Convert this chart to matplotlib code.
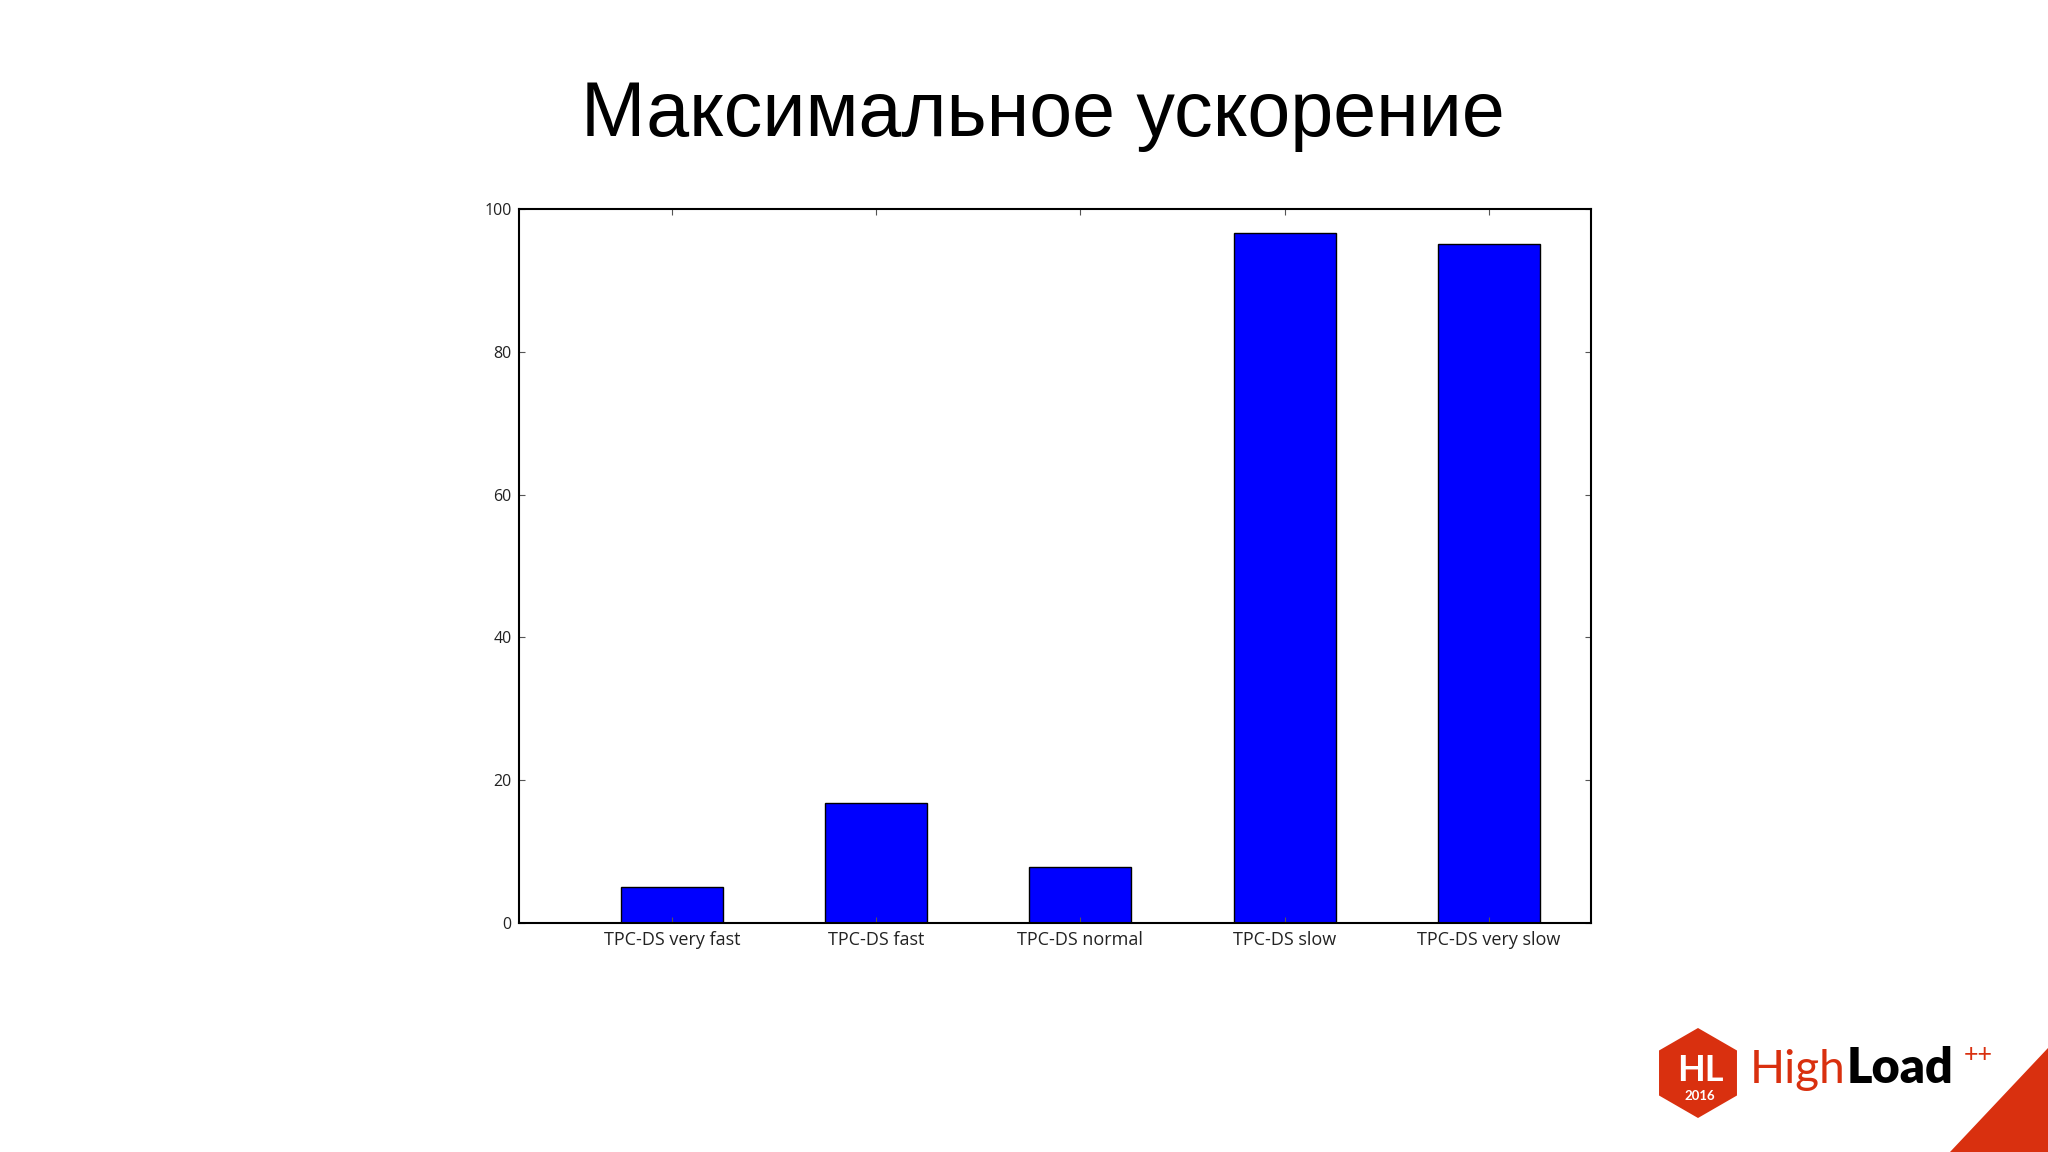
import matplotlib
matplotlib.use("Agg")
import matplotlib.pyplot as plt
from matplotlib.patches import RegularPolygon, Polygon

# Data
categories = ["TPC-DS very fast", "TPC-DS fast", "TPC-DS normal", "TPC-DS slow", "TPC-DS very slow"]
speedup = [5.0, 16.8, 7.8, 96.6, 95.1]
y_ticks = [0, 20, 40, 60, 80, 100]

title = "Максимальное ускорение"

fig = plt.figure(figsize=(20.48, 11.52), dpi=100)
fig.patch.set_facecolor("white")

# Main bar chart
ax = fig.add_axes([0.2532, 0.1988, 0.5237, 0.6198])
x = list(range(len(categories)))
ax.bar(x, speedup, width=0.5, color="#0000ff", edgecolor="black", linewidth=1.0)
ax.set_xlim(-0.75, len(categories) - 0.5)
ax.set_ylim(0, 100)
ax.set_xticks(x)
ax.set_xticklabels(categories, fontfamily="Open Sans", fontsize=13, color="#222222")
ax.set_yticks(y_ticks)
ax.set_yticklabels([str(v) for v in y_ticks], fontfamily="Open Sans", fontsize=11.5, color="#222222")
ax.tick_params(axis="both", direction="in", length=4, width=0.8, color="#555555",
               top=True, right=True)
ax.tick_params(axis="x", pad=6)
ax.tick_params(axis="y", pad=5)
for sp in ax.spines.values():
    sp.set_linewidth(1.5)
    sp.set_color("black")

# Slide title
fig.text(0.509, 0.882, title, ha="center", va="baseline",
         fontfamily="Liberation Sans", fontsize=55.5, color="black")

# HighLoad++ logo, drawn in pixel coordinates
logo = fig.add_axes([0, 0, 1, 1])
logo.set_xlim(0, 2048)
logo.set_ylim(1152, 0)
logo.axis("off")
red = "#d9300f"
logo.add_patch(RegularPolygon((1698, 1073), numVertices=6, radius=45, orientation=0,
                              facecolor=red, edgecolor="none"))
logo.text(1700, 1081, "HL", ha="center", va="baseline", fontfamily="Lato",
          fontweight="bold", fontsize=26, color="white")
logo.text(1700, 1100, "2016", ha="center", va="baseline", fontfamily="Lato",
          fontweight="bold", fontsize=9.5, color="white")
logo.text(1846, 1083, "High", ha="right", va="baseline", fontfamily="Lato",
          fontweight="normal", fontsize=33, color=red)
logo.text(1847, 1083, "Load", ha="left", va="baseline", fontfamily="Lato",
          fontweight="heavy", fontsize=35, color="black")
logo.text(1964, 1062, "++", ha="left", va="baseline", fontfamily="Lato",
          fontweight="normal", fontsize=18, color=red)
logo.add_patch(Polygon([(1950, 1152), (2048, 1048), (2048, 1152)], closed=True,
                       facecolor=red, edgecolor="none"))

fig.savefig("out.png", dpi=100)
